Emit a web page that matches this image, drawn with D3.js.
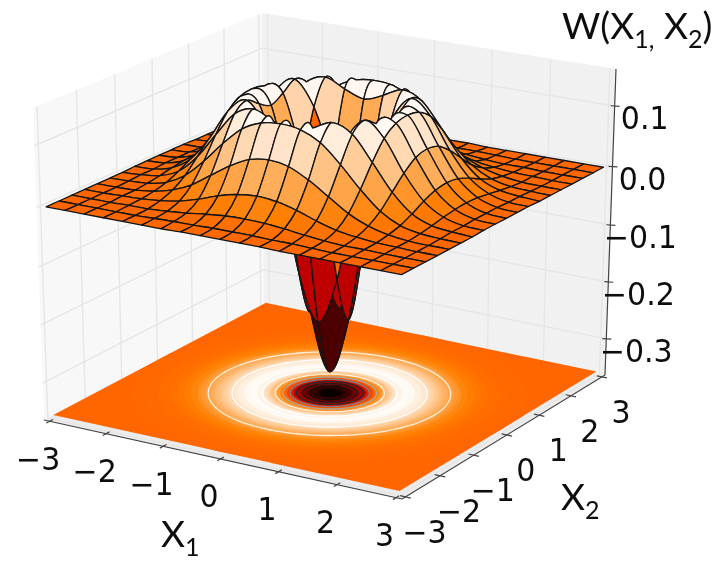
<!DOCTYPE html>
<html><head><meta charset="utf-8">
<script src="https://cdn.jsdelivr.net/npm/d3@7"></script>
<style>html,body{margin:0;padding:0;background:#fff}svg{display:block}</style>
</head><body><div id="chart"></div>
<script>
// ---- data ----
const x1Ticks = [-3,-2,-1,0,1,2,3];
const x2Ticks = [-3,-2,-1,0,1,2,3];
const zTicks  = [-0.3,-0.2,-0.1,0.0,0.1];
const xLabels = ["\u22123","\u22122","\u22121","0","1","2","3"];
const zLabels = ["\u22120.3","\u22120.2","\u22120.1","0.0","0.1"];
const gridStep = 1/3;
// one quarter of the (mirror-symmetric) surface, rows/cols from the centre outward in gridStep steps
const surfaceQuarter = [
 [-.318,-.222,-.023,.117,.138,.090,.041,.014,.003,.001],
 [-.222,-.142,.020,.128,.134,.085,.038,.013,.003,.001],
 [-.023,.020,.102,.142,.119,.069,.030,.010,.002,.001],
 [.117,.128,.142,.129,.090,.048,.019,.006,.002,.000],
 [.138,.134,.119,.090,.056,.027,.010,.003,.001,.000],
 [.090,.085,.069,.048,.027,.013,.005,.001,.000,.000],
 [.041,.038,.030,.019,.010,.005,.002,.001,.000,.000],
 [.014,.013,.010,.006,.003,.001,.001,.000,.000,.000],
 [.003,.003,.002,.002,.001,.000,.000,.000,.000,.000],
 [.001,.001,.001,.000,.000,.000,.000,.000,.000,.000]
];
// projected filled contours on the floor
const bandRadii  = [3,2.8,2.6,2.4,2.3,2.2,2.1,2,1.95,1.9,1.85,1.8,1.75,1.7,1.65,1.6,1.55,1.5,1.45,1.4,1.3,1.2,1.1,1,.95,.9,.85,.8,.75,.7,.65,.6,.55,.5,.45,.4,.35,.3,.25,.2,.15,.1,.05];
const bandValues = [.001,.002,.005,.011,.015,.022,.030,.041,.047,.054,.061,.068,.076,.085,.093,.101,.110,.117,.125,.131,.140,.142,.135,.117,.104,.088,.069,.047,.023,-.004,-.032,-.062,-.093,-.124,-.155,-.185,-.213,-.239,-.262,-.281,-.297,-.31,-.317];
const contourRadii  = [1.84,1.48,1.02,.83,.707,.60,.505,.41,.30,.14];
const contourValues = [.06,.12,.12,.06,0,-.06,-.12,-.18,-.24,-.30];

// ---- layout ----
const W = 719, H = 562;
const floorZ = -0.353, gridExtent = 3;
const boxBottom = [[44,420],[402,499],[605,375],[264,304]]; // left, front, right, back
const boxTop    = [[33,108],[405,174],[616,69],[262,13]];

const u = d3.scaleLinear().domain([-3.1,3.1]).range([0,1]);
const v = d3.scaleLinear().domain([-3.1,3.1]).range([0,1]);
const t = d3.scaleLinear().domain([-.36,-.3,-.2,-.1,0,.1,.16]).range([0,.118,.304,.49,.681,.879,1]);

function squareToQuad(q){
  const [[x0,y0],[x1,y1],[x2,y2],[x3,y3]] = q;
  const dx1=x1-x2, dx2=x3-x2, sx=x0-x1+x2-x3, dy1=y1-y2, dy2=y3-y2, sy=y0-y1+y2-y3;
  const den=dx1*dy2-dx2*dy1;
  const g=(sx*dy2-dx2*sy)/den, h=(dx1*sy-sx*dy1)/den;
  const a=x1-x0+g*x1, b=x3-x0+h*x3, d=y1-y0+g*y1, e=y3-y0+h*y3;
  return (p,q2)=>{const w=g*p+h*q2+1;return [(a*p+b*q2+x0)/w,(d*p+e*q2+y0)/w];};
}
const hBottom = squareToQuad(boxBottom), hTop = squareToQuad(boxTop);
function project(x,y,z){
  const a=hBottom(u(x),v(y)), b=hTop(u(x),v(y)), k=t(z);
  return [a[0]+(b[0]-a[0])*k, a[1]+(b[1]-a[1])*k];
}
const closeness=(x,y,z)=>0.866*(0.5*u(x)-0.866*v(y))+0.5*t(z);

// gist_heat colour map over the range of the surface
const heatDomain=[0,.5,2/3,.75,1];
const vmin=-.318, vmax=.136;
const heat=d3.scaleLinear().domain(heatDomain.map(f=>vmin+f*(vmax-vmin)))
  .range(["#000000","#bf0000","#ff5500","#ff8000","#ffffff"]).interpolate(d3.interpolateRgb).clamp(true);
const floorHeat=z=>heat(z>0?z*.93:z);
const grayLine=d3.scaleLinear().domain([-.318,-.12,-.06,0,.06,.12])
  .range(["#000000","#2a2a2a","#7f7f85","#a8a8a8","#fff0dc","#ffffff"]).clamp(true);

const svg=d3.select("#chart").append("svg").attr("width",W).attr("height",H).attr("viewBox",[0,0,W,H]);
svg.append("defs").append("filter").attr("id","soft").attr("x",0).attr("y",0).attr("width",1).attr("height",1)
  .append("feGaussianBlur").attr("stdDeviation",.4);
const root=svg.append("g").attr("filter","url(#soft)");
const line=d3.line();
const ring=pts=>line(pts)+"Z";

// ---- panes ----
const E=3.1, zLo=-.36, zHi=.16;
const panes=root.append("g");
panes.append("path").attr("d",ring([project(-E,-E,zLo),project(-E,E,zLo),project(-E,E,zHi),project(-E,-E,zHi)])).attr("fill","#f8f8f8");
panes.append("path").attr("d",ring([project(-E,E,zLo),project(E,E,zLo),project(E,E,zHi),project(-E,E,zHi)])).attr("fill","#f1f1f1");
panes.append("path").attr("d",ring([project(-E,-E,zLo),project(E,-E,zLo),project(E,E,zLo),project(-E,E,zLo)])).attr("fill","#ececec");
const gridG=root.append("g").attr("fill","none").attr("stroke","#e6e6e6").attr("stroke-width",1.4);
const seg=(a,b)=>gridG.append("path").attr("d",line([a,b]));
x2Ticks.forEach(y=>{seg(project(-E,y,zLo),project(-E,y,zHi));seg(project(-E,y,zLo),project(E,y,zLo));});
x1Ticks.forEach(x=>{seg(project(x,E,zLo),project(x,E,zHi));seg(project(x,-E,zLo),project(x,E,zLo));});
zTicks.forEach(z=>{seg(project(-E,-E,z),project(-E,E,z));seg(project(-E,E,z),project(E,E,z));});

// ---- axis lines and ticks ----
const axisG=root.append("g").attr("fill","none").attr("stroke","#444").attr("stroke-width",1.2);
axisG.append("path").attr("d",line([project(-E,-E,zLo),project(E,-E,zLo)]));
axisG.append("path").attr("d",line([project(E,-E,zLo),project(E,E,zLo)]));
axisG.append("path").attr("d",line([project(E,E,zLo),project(E,E,zHi)]));
const tickHalf=0.09;
x1Ticks.forEach(x=>axisG.append("path").attr("d",line([project(x,-E-tickHalf,zLo),project(x,-E+tickHalf,zLo)])));
x2Ticks.forEach(y=>axisG.append("path").attr("d",line([project(E-tickHalf,y,zLo),project(E+tickHalf,y,zLo)])));
zTicks.forEach(z=>{const p=project(E,E,z);axisG.append("path").attr("d",line([[p[0]-4,p[1]-.3],[p[0]+5,p[1]+.3]]));});

// ---- filled contours on the floor ----
const floorG=root.append("g");
floorG.append("path").attr("d",ring([project(-gridExtent,-gridExtent,floorZ),project(gridExtent,-gridExtent,floorZ),project(gridExtent,gridExtent,floorZ),project(-gridExtent,gridExtent,floorZ)]))
  .attr("fill",heat(0));
const angles=d3.range(0,360,4).map(a=>a*Math.PI/180);
const circle=r=>ring(angles.map(a=>project(r*Math.cos(a),r*Math.sin(a),floorZ)));
floorG.selectAll(".band").data(bandRadii).join("path").attr("class","band").attr("d",d=>circle(d)).attr("fill",(d,i)=>floorHeat(bandValues[i]));
floorG.selectAll(".level").data(contourRadii).join("path").attr("class","level").attr("d",d=>circle(d))
  .attr("fill","none").attr("stroke",(d,i)=>grayLine(contourValues[i])).attr("stroke-width",1.3);

// ---- surface: mesh nodes joined by smooth (Catmull-Rom) edges ----
const n=surfaceQuarter.length-1, last=2*n;
const zAt=(i,j)=>surfaceQuarter[Math.abs(i-n)][Math.abs(j-n)];
const coord=i=>(i-n)*gridStep;
const nodes=d3.range(0,last+1).map(i=>d3.range(0,last+1).map(j=>project(coord(i),coord(j),zAt(i,j))));
const clampIdx=k=>Math.max(0,Math.min(last,k));
function edge(path,i0,j0,di,dj){
  const N=(s)=>nodes[clampIdx(i0+di*s)][clampIdx(j0+dj*s)];
  const pm=N(-1),p0=N(0),p1=N(1),p2=N(2);
  path.bezierCurveTo(p0[0]+(p1[0]-pm[0])/6,p0[1]+(p1[1]-pm[1])/6,p1[0]-(p2[0]-p0[0])/6,p1[1]-(p2[1]-p0[1])/6,p1[0],p1[1]);
}
const cells=[];
d3.range(0,last).forEach(i=>d3.range(0,last).forEach(j=>{
  const c=[[i,j],[i+1,j],[i+1,j+1],[i,j+1]].map(([a,b])=>[coord(a),coord(b),zAt(a,b)]);
  const p=d3.path();
  p.moveTo(nodes[i][j][0],nodes[i][j][1]);
  edge(p,i,j,1,0); edge(p,i+1,j,0,1); edge(p,i+1,j+1,-1,0); edge(p,i,j+1,0,-1);
  p.closePath();
  cells.push({d:p.toString(),z:d3.mean(c,q=>q[2]),depth:d3.mean(c,q=>closeness(q[0],q[1],q[2]))});
}));
cells.sort((a,b)=>a.depth-b.depth);
root.append("g").selectAll("path").data(cells).join("path")
  .attr("d",d=>d.d)
  .attr("fill",d=>heat(d.z)).attr("stroke","#141414").attr("stroke-width",1.35).attr("stroke-linejoin","round");

// ---- text ----
const textG=root.append("g").attr("fill","#111");
const num=(x,y,s)=>textG.append("text").attr("transform",`translate(${x},${y}) scale(1,1.06)`)
  .attr("font-family","'DejaVu Sans',sans-serif").attr("font-size",30).attr("text-anchor","middle").text(s);
x1Ticks.forEach((x,i)=>{const p=project(x,-E,zLo);num(p[0]-11.5,p[1]+48.5,xLabels[i]);});
x2Ticks.forEach((y,i)=>{const p=project(E,y,zLo);num(p[0]+19,p[1]+46,xLabels[i]);});
zTicks.forEach((z,i)=>{const p=project(E,E,z);num(p[0]+30,p[1]+23,zLabels[i]);});

const label=(x,y,parts)=>{
  const el=textG.append("text").attr("x",x).attr("y",y).attr("font-family","Lato,'Open Sans',sans-serif").attr("font-size",37);
  parts.forEach(([s,sub])=>{
    const ts=el.append("tspan").text(s);
    if(sub){ts.attr("font-size",25).attr("dy",9);} else if(el.selectAll("tspan").size()>1){ts.attr("dy",-9);}
  });
};
label(562,39,[["W(X"],["1,",true],[" X"],["2",true],[")"]]);
label(161,547,[["X"],["1",true]]);
label(561,510,[["X"],["2",true]]);
</script></body></html>
